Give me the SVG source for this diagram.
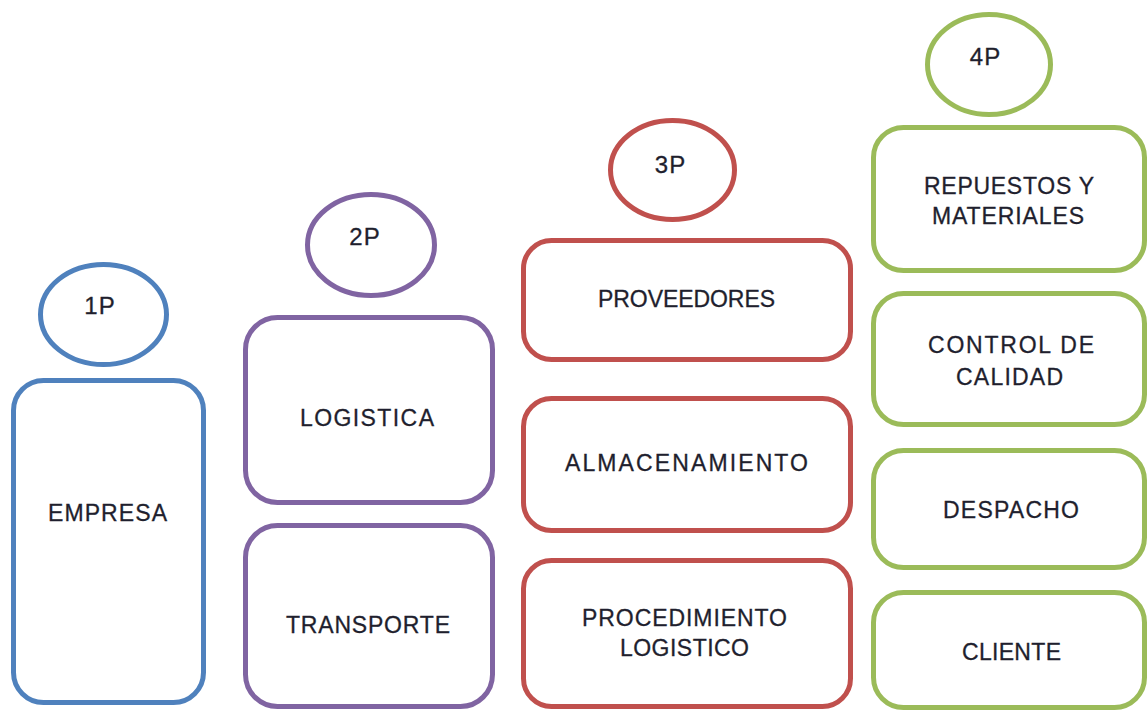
<svg xmlns="http://www.w3.org/2000/svg" width="1148" height="711" viewBox="0 0 1148 711">
<style>
  .t { font-family: "Liberation Sans", Arial, sans-serif; font-size: 23px; fill: #1f1f2e; stroke: #1f1f2e; stroke-width: 0.3; text-anchor: middle; }
  .c { font-size: 24px; letter-spacing: 1px; }
  .box, .circ { fill: #ffffff; stroke-width: 5; }
  .blue { stroke: #4f81bd; }
  .purple { stroke: #8064a2; }
  .red { stroke: #c0504d; }
  .green { stroke: #9bbb59; }
</style>
<rect width="1148" height="711" fill="#ffffff"/>
<g id="connectors"></g>

<g id="n1p"><ellipse class="circ blue" cx="103.5" cy="314.5" rx="63" ry="50"/><text class="t c" x="100" y="313.5">1P</text></g>
<g id="empresa"><rect class="box blue" x="13.5" y="380.5" width="190" height="322" rx="30"/><text class="t" x="107.5" y="520.5" textLength="119" lengthAdjust="spacing">EMPRESA</text></g>

<g id="n2p"><ellipse class="circ purple" cx="371" cy="245" rx="63.5" ry="50.5"/><text class="t c" x="365" y="244.5">2P</text></g>
<g id="logistica"><rect class="box purple" x="245.5" y="317.5" width="247" height="185" rx="32"/><text class="t" x="367" y="426" textLength="134" lengthAdjust="spacing">LOGISTICA</text></g>
<g id="transporte"><rect class="box purple" x="245.5" y="525.5" width="247" height="181" rx="32"/><text class="t" x="368" y="633" textLength="164" lengthAdjust="spacing">TRANSPORTE</text></g>

<g id="n3p"><ellipse class="circ red" cx="672.5" cy="170" rx="62" ry="49.5"/><text class="t c" x="670.5" y="172.5">3P</text></g>
<g id="proveedores"><rect class="box red" x="523.5" y="240.5" width="327" height="119" rx="28"/><text class="t" x="686.5" y="307" textLength="177" lengthAdjust="spacing">PROVEEDORES</text></g>
<g id="almacenamiento"><rect class="box red" x="523.5" y="398.5" width="327" height="132" rx="28"/><text class="t" x="686.5" y="471" textLength="243" lengthAdjust="spacing">ALMACENAMIENTO</text></g>
<g id="procedimiento"><rect class="box red" x="523.5" y="560.5" width="327" height="146" rx="28"/><text class="t" x="684.5" y="626" textLength="205" lengthAdjust="spacing">PROCEDIMIENTO</text><text class="t" x="684.5" y="656" textLength="129" lengthAdjust="spacing">LOGISTICO</text></g>

<g id="n4p"><ellipse class="circ green" cx="989" cy="64.5" rx="61.5" ry="50"/><text class="t c" x="985.5" y="64.5">4P</text></g>
<g id="repuestos"><rect class="box green" x="873.5" y="127.5" width="271" height="143" rx="30"/><text class="t" x="1009" y="194" textLength="170" lengthAdjust="spacing">REPUESTOS Y</text><text class="t" x="1008" y="224" textLength="152" lengthAdjust="spacing">MATERIALES</text></g>
<g id="control"><rect class="box green" x="873.5" y="293.5" width="271" height="131" rx="30"/><text class="t" x="1011" y="353" textLength="166" lengthAdjust="spacing">CONTROL DE</text><text class="t" x="1009.5" y="385" textLength="107" lengthAdjust="spacing">CALIDAD</text></g>
<g id="despacho"><rect class="box green" x="873.5" y="450.5" width="271" height="117" rx="30"/><text class="t" x="1011" y="518" textLength="136" lengthAdjust="spacing">DESPACHO</text></g>
<g id="cliente"><rect class="box green" x="873.5" y="592.5" width="271" height="115" rx="30"/><text class="t" x="1011.5" y="660" textLength="99" lengthAdjust="spacing">CLIENTE</text></g>
</svg>
